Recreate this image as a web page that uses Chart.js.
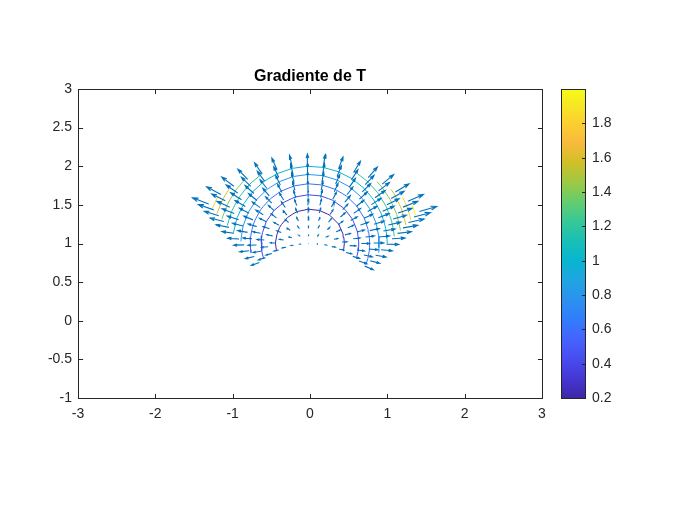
<!DOCTYPE html>
<html>
<head>
<meta charset="utf-8">
<script src="https://cdn.jsdelivr.net/npm/chart.js@4/dist/chart.umd.min.js"></script>
<style>
html,body{margin:0;padding:0;background:#ffffff;}
#wrap{width:675px;height:506px;}
</style>
</head>
<body>
<div id="wrap"><canvas id="c" width="675" height="506"></canvas></div>
<script>
// ---------------- data ----------------
const chartTitle = 'Gradiente de T';
// polar sampling grid: r = 1:0.1:2, theta = pi/4:0.1:3pi/4
const radii  = [1.0, 1.1, 1.2, 1.3, 1.4, 1.5, 1.6, 1.7, 1.8, 1.9, 2.0];
const angles = [0.7854, 0.8854, 0.9854, 1.0854, 1.1854, 1.2854, 1.3854, 1.4854,
                1.5854, 1.6854, 1.7854, 1.8854, 1.9854, 2.0854, 2.1854, 2.2854];
// plotted field T = x^2 + (y - 1)^2 and its gradient
const fieldCentre = [0, 1];
const contourLevels = [0.2, 0.4, 0.6, 0.8, 1.0, 1.2, 1.4, 1.6, 1.8, 2.0];
const colorLimits = [0.2, 2.0];
const xTickValues = [-3, -2, -1, 0, 1, 2, 3];
const yTickValues = [-1, -0.5, 0, 0.5, 1, 1.5, 2, 2.5, 3];
const colorbarTicks = [0.2, 0.4, 0.6, 0.8, 1, 1.2, 1.4, 1.6, 1.8];

// ---------------- style ----------------
const arrowScale = 0.0795;     // quiver autoscale factor
const headAlpha = 0.33, headBeta = 0.33;
const arrowColor = '#0072BD';
const axisColor = '#262626';
const parulaStops = [
  [1,62,38,168],[5,69,55,213],[9,72,77,240],[13,69,99,253],[17,50,124,252],
  [21,43,145,239],[25,32,165,227],[29,8,181,208],[33,25,191,182],[37,55,200,151],
  [41,100,205,111],[45,157,201,67],[49,209,191,39],[53,248,186,61],[57,252,207,48],
  [61,245,233,36],[64,249,251,21]
].map(s => [(s[0]-1)/63, s[1], s[2], s[3]]);

function parula(t){
  t = Math.max(0, Math.min(1, t));
  for (let k = 0; k < parulaStops.length - 1; k++) {
    const a = parulaStops[k], b = parulaStops[k+1];
    if (t <= b[0]) {
      const w = (t - a[0]) / (b[0] - a[0]);
      const c = [1,2,3].map(q => Math.round(a[q] + (b[q]-a[q]) * w));
      return `rgb(${c[0]},${c[1]},${c[2]})`;
    }
  }
  const l = parulaStops[parulaStops.length-1];
  return `rgb(${l[1]},${l[2]},${l[3]})`;
}

function fieldT(x, y){ const dx = x - fieldCentre[0], dy = y - fieldCentre[1]; return dx*dx + dy*dy; }
function fieldGrad(x, y){ return [2*(x - fieldCentre[0]), 2*(y - fieldCentre[1])]; }

// grid
const gridX = radii.map(r => angles.map(a => r*Math.cos(a)));
const gridY = radii.map(r => angles.map(a => r*Math.sin(a)));
const gridT = radii.map((r,i) => angles.map((a,j) => fieldT(gridX[i][j], gridY[i][j])));

const GAP = {x: NaN, y: NaN};

// quiver arrows
function arrowPoints(){
  const pts = [];
  for (let i = 0; i < radii.length; i++) {
    for (let j = 0; j < angles.length; j++) {
      const x = gridX[i][j], y = gridY[i][j];
      const g = fieldGrad(x, y);
      const u = g[0]*arrowScale, v = g[1]*arrowScale;
      const tx = x + u, ty = y + v;
      pts.push({x, y}, {x: tx, y: ty}, GAP);
      pts.push({x: tx - headAlpha*(u + headBeta*v), y: ty - headAlpha*(v - headBeta*u)},
               {x: tx, y: ty},
               {x: tx - headAlpha*(u - headBeta*v), y: ty - headAlpha*(v + headBeta*u)}, GAP);
    }
  }
  return pts;
}

// marching squares contour on the polar grid
function contourPoints(level){
  const pts = [];
  for (let i = 0; i < radii.length - 1; i++) {
    for (let j = 0; j < angles.length - 1; j++) {
      const c = [[i,j],[i+1,j],[i+1,j+1],[i,j+1]];
      const cross = [];
      for (let k = 0; k < 4; k++) {
        const a = c[k], b = c[(k+1)%4];
        const va = gridT[a[0]][a[1]], vb = gridT[b[0]][b[1]];
        if ((va < level) !== (vb < level)) {
          const t = (level - va) / (vb - va);
          cross.push({
            x: gridX[a[0]][a[1]] + (gridX[b[0]][b[1]] - gridX[a[0]][a[1]]) * t,
            y: gridY[a[0]][a[1]] + (gridY[b[0]][b[1]] - gridY[a[0]][a[1]]) * t
          });
        }
      }
      if (cross.length === 2) pts.push(cross[0], cross[1], GAP);
      else if (cross.length === 4) pts.push(cross[0], cross[1], GAP, cross[2], cross[3], GAP);
    }
  }
  return pts;
}

const datasets = [{
  label: 'quiver', data: arrowPoints(), showLine: true, borderColor: arrowColor,
  borderWidth: 1.1, pointRadius: 0, spanGaps: false, order: 0
}];
contourLevels.forEach(L => {
  datasets.push({
    label: 'T=' + L, data: contourPoints(L), showLine: true,
    borderColor: parula((L - colorLimits[0]) / (colorLimits[1] - colorLimits[0])),
    borderWidth: 1, pointRadius: 0, spanGaps: false, order: 1
  });
});

// ---------------- frame / colorbar plugin ----------------
const framePlugin = {
  id: 'frame',
  afterDatasetsDraw(chart){
    const ctx = chart.ctx, ca = chart.chartArea;
    const xs = chart.scales.x, ys = chart.scales.y;
    const L = Math.round(ca.left) + 0.5, R = Math.round(ca.right) + 0.5;
    const T = Math.round(ca.top) + 0.5, B = Math.round(ca.bottom) + 0.5;
    ctx.save();
    ctx.strokeStyle = axisColor; ctx.lineWidth = 1;
    ctx.strokeRect(L, T, R - L, B - T);
    const tl = 4.6;
    ctx.beginPath();
    xTickValues.forEach(v => {
      const px = Math.round(xs.getPixelForValue(v)) + 0.5;
      ctx.moveTo(px, B); ctx.lineTo(px, B - tl);
      ctx.moveTo(px, T); ctx.lineTo(px, T + tl);
    });
    yTickValues.forEach(v => {
      const py = Math.round(ys.getPixelForValue(v)) + 0.5;
      ctx.moveTo(L, py); ctx.lineTo(L + tl, py);
      ctx.moveTo(R, py); ctx.lineTo(R - tl, py);
    });
    ctx.stroke();
    ctx.restore();
  },
  afterDraw(chart){
    const ctx = chart.ctx, ca = chart.chartArea, cb = chart.scales.cb;
    const x0 = Math.round(ca.right) + 19, w = 24;
    const yTop = cb.getPixelForValue(colorLimits[1]), yBot = cb.getPixelForValue(colorLimits[0]);
    ctx.save();
    const grad = ctx.createLinearGradient(0, yBot, 0, yTop);
    parulaStops.forEach(s => grad.addColorStop(s[0], `rgb(${s[1]},${s[2]},${s[3]})`));
    ctx.fillStyle = grad;
    ctx.fillRect(x0, yTop, w, yBot - yTop);
    ctx.strokeStyle = axisColor; ctx.lineWidth = 1;
    ctx.strokeRect(x0 + 0.5, Math.round(yTop) + 0.5, w, Math.round(yBot - yTop));
    ctx.beginPath();
    colorbarTicks.forEach(v => {
      const py = Math.round(cb.getPixelForValue(v)) + 0.5;
      ctx.moveTo(x0 + w + 0.5, py); ctx.lineTo(x0 + w - 3, py);
    });
    ctx.stroke();
    ctx.restore();
  }
};

const tickFont = {family: "'Liberation Sans', Arial, Helvetica, sans-serif", size: 14};
const fmt = v => String(v);

new Chart(document.getElementById('c'), {
  type: 'scatter',
  data: {datasets},
  options: {
    responsive: false, animation: false, devicePixelRatio: 1,
    layout: {padding: {top: 67, bottom: 78, left: 0, right: 0}},
    plugins: {
      legend: {display: false}, tooltip: {enabled: false},
      title: {
        display: true, text: chartTitle, fullSize: false, color: '#000000',
        font: {family: "'Liberation Sans', Arial, Helvetica, sans-serif", size: 16, weight: 'bold', lineHeight: 1.25},
        padding: {top: 0, bottom: 2}
      }
    },
    scales: {
      x: {
        type: 'linear', min: -3, max: 3, position: 'bottom',
        grid: {display: false, drawTicks: false}, border: {display: false},
        afterBuildTicks: s => { s.ticks = xTickValues.map(v => ({value: v})); },
        afterFit: s => { s.height = 30; },
        ticks: {font: tickFont, color: axisColor, padding: 8, autoSkip: false, maxRotation: 0, callback: fmt}
      },
      y: {
        type: 'linear', min: -1, max: 3, position: 'left',
        grid: {display: false, drawTicks: false}, border: {display: false},
        afterBuildTicks: s => { s.ticks = yTickValues.map(v => ({value: v})); },
        afterFit: s => { s.width = 78; },
        ticks: {font: tickFont, color: axisColor, padding: 6, autoSkip: false, callback: fmt}
      },
      cb: {
        type: 'linear', axis: 'y', min: colorLimits[0], max: colorLimits[1], position: 'right',
        grid: {display: false, drawTicks: false}, border: {display: false},
        afterBuildTicks: s => { s.ticks = colorbarTicks.map(v => ({value: v})); },
        afterFit: s => { s.width = 133; },
        ticks: {font: tickFont, color: axisColor, padding: 50, autoSkip: false, callback: fmt}
      }
    }
  },
  plugins: [framePlugin]
});
</script>
</body>
</html>
